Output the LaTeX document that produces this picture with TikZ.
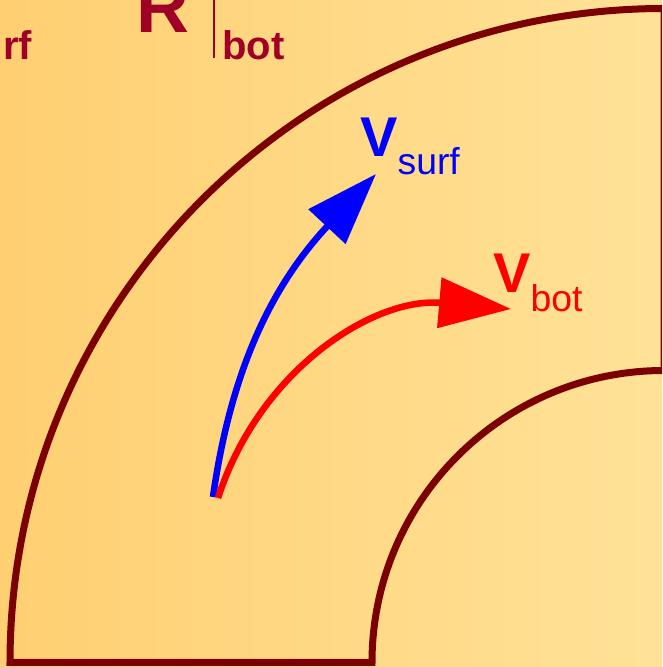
\documentclass[tikz,border=0pt]{standalone}
\usepackage{fontspec}
\setmainfont{Liberation Sans}
\usetikzlibrary{arrows.meta}
\definecolor{BgLeft}{HTML}{FFCF72}
\definecolor{BgRight}{HTML}{FFE298}
\definecolor{Wall}{HTML}{7D0000}
\definecolor{Mark}{HTML}{A00025}
\newcommand{\vecname}[2]{{\fontsize{42}{42}\selectfont\bfseries V}\raisebox{#2}{\fontsize{28}{28}\selectfont #1}}

\begin{document}
\begin{tikzpicture}[x=0.75pt,y=0.75pt,every node/.style={inner sep=0pt,anchor=base west},wall/.style={draw=Wall,line width=5.25pt},vec/.style={line width=4.9pt,-{Triangle[length=54pt,width=37pt]}},formula/.style={text=Mark,font=\fontsize{30}{30}\selectfont\bfseries}]
\useasboundingbox (0,0) rectangle (662,667);
\clip (0,0) rectangle (662,667);
\shade[left color=BgLeft,right color=BgRight] (0,0) rectangle (662,667);

% bend of the channel
\draw[wall] (10,4.5) -- (372,4.5) arc[start angle=180,end angle=90,radius=292] -- (664,658.5) arc[start angle=90,end angle=180,radius=654] -- cycle;

% cut-off formula at the top
\node[formula] (rf) at (3,607) {rf};
\node[formula,font=\fontsize{55}{55}\selectfont\bfseries] (bigR) at (136,634) {R};
\draw[Mark,line width=2.2pt] (214,667) -- (214,609);
\node[formula] (bot) at (222,607) {bot};

% velocities
\coordinate (surfroot) at (213,170);
\coordinate (botroot) at (218,169);
\coordinate (surftip) at (376,493);
\coordinate (bottip) at (511,358);
\node[text=blue] (vsurf) at (360,510) {\vecname{surf}{-13.5pt}};
\node[text=red] (vbot) at (493,374) {\vecname{bot}{-14.25pt}};
\draw[vec,blue] (surfroot) to[out=82,in=227] (surftip);
\draw[vec,red] (botroot) to[out=72,in=175] (bottip);
\end{tikzpicture}
\end{document}
